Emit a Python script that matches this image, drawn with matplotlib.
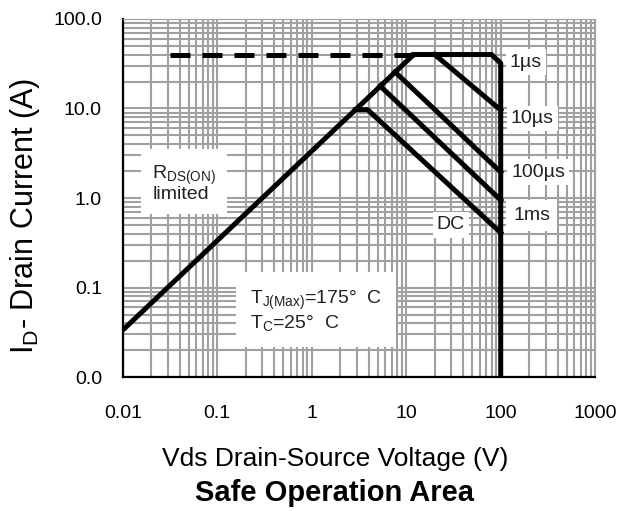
import matplotlib
matplotlib.use("Agg")
from matplotlib import pyplot as plt
from matplotlib.ticker import LogLocator, NullFormatter

plt.rcParams['font.family'] = ['Liberation Sans', 'DejaVu Sans']
plt.rcParams['mathtext.default'] = 'regular'

# curvas SOA (Vds en V, Id en A)
rds_v = [0.01, 12]
rds_i = [0.0335, 40]
lim_v = [0.032, 12]
lim_i = [40, 40]
us1_v = [12, 80, 100, 100]
us1_i = [40, 40, 32, 0.01]
us10_v = [20, 100]
us10_i = [40, 9.6]
us100_v = [7.6, 100]
us100_i = [25.6, 1.95]
ms1_v = [5.3, 100]
ms1_i = [17.8, 0.95]
dc_v = [2.9, 3.9, 100]
dc_i = [9.7, 9.7, 0.41]

xticks = [0.01, 0.1, 1, 10, 100, 1000]
xtick_labels = ["0.01", "0.1", "1", "10", "100", "1000"]
yticks = [0.01, 0.1, 1, 10, 100]
ytick_labels = ["0.0", "0.1", "1.0", "10.0", "100.0"]

fig = plt.figure(figsize=(6.2, 5.11), dpi=100)
ax = fig.add_axes([0.198, 0.262, 0.762, 0.701])
ax.set_xscale('log')
ax.set_yscale('log')
ax.set_xlim(0.01, 1000)
ax.set_ylim(0.01, 100)

ax.xaxis.set_minor_locator(LogLocator(base=10, subs=range(2, 10), numticks=20))
ax.yaxis.set_minor_locator(LogLocator(base=10, subs=range(2, 10), numticks=20))
ax.xaxis.set_minor_formatter(NullFormatter())
ax.yaxis.set_minor_formatter(NullFormatter())
ax.grid(True, which='both', color='#a0a0a0', lw=1.5)
ax.set_axisbelow(True)
ax.tick_params(which='both', length=0, labelsize=14)
ax.tick_params(axis='x', pad=20)
ax.tick_params(axis='y', pad=15)
ax.set_xticks(xticks)
ax.set_xticklabels(xtick_labels)
ax.set_yticks(yticks)
ax.set_yticklabels(ytick_labels)

for s in ['top', 'right']:
    ax.spines[s].set_color('#a0a0a0')
for s in ['left', 'bottom']:
    ax.spines[s].set_color('black')
    ax.spines[s].set_linewidth(1.6)

lw = 3.6
ax.plot(rds_v, rds_i, color='black', lw=lw, solid_capstyle='butt')
ax.plot(lim_v, lim_i, color='black', lw=lw, linestyle=(0, (4.0, 2.4)))
ax.plot(us1_v, us1_i, color='black', lw=lw)
ax.plot(us10_v, us10_i, color='black', lw=lw)
ax.plot(us100_v, us100_i, color='black', lw=lw)
ax.plot(ms1_v, ms1_i, color='black', lw=lw)
ax.plot(dc_v, dc_i, color='black', lw=lw)

box = dict(facecolor='white', edgecolor='none', pad=3)
tc = '#202028'
ax.text(125, 33, "1µs", fontsize=14, va='center', color=tc, bbox=box)
ax.text(128, 7.8, "10µs", fontsize=14, va='center', color=tc, bbox=box)
ax.text(130, 1.95, "100µs", fontsize=14, va='center', color=tc, bbox=box)
ax.text(135, 0.63, "1ms", fontsize=14, va='center', color=tc, bbox=dict(facecolor='white', edgecolor='none', pad=5))
ax.text(21, 0.5, "DC", fontsize=14, va='center', color=tc, bbox=box)
ax.text(0.0205, 1.45, "R$_{DS(ON)}$\nlimited", fontsize=14, va='center', color=tc,
        linespacing=0.95, bbox=dict(facecolor='white', edgecolor='none', pad=8))
ax.text(0.22, 0.055, "T$_{J(Max)}$=175°  C\nT$_C$=25°  C", fontsize=14, va='center', color=tc,
        linespacing=1.05, bbox=dict(facecolor='white', edgecolor='none', pad=10))

fig.text(0.540, 0.088, "Vds Drain-Source Voltage (V)", fontsize=19, ha='center', va='baseline')
fig.text(0.040, 0.577, "I$_D$- Drain Current (A)", fontsize=22, rotation=90, ha='center', va='center')
fig.text(0.540, 0.020, "Safe Operation Area", fontsize=21, fontweight='bold', ha='center', va='baseline')

fig.savefig("out.png", dpi=100)
